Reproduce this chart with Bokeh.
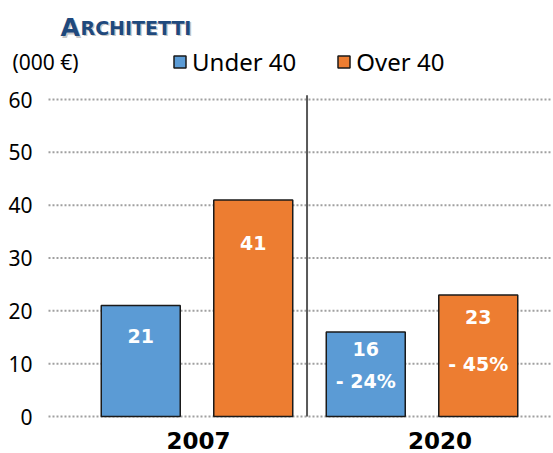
from bokeh.plotting import figure
from bokeh.models import Range1d, Legend, LegendItem, Label, LabelSet, ColumnDataSource
from bokeh.core.properties import value
from bokeh.embed import file_html
from bokeh.resources import INLINE

# ---- data ----
years = ["2007", "2020"]
under_40 = [21, 16]
over_40 = [41, 23]
pct_change = ["- 24%", "- 45%"]          # shown on 2020 bars (vs 2007)
y_ticks = [0, 10, 20, 30, 40, 50, 60]
title_text = "Architetti"
unit_text = "(000 €)"

BLUE = "#5B9BD5"
ORANGE = "#ED7D31"
EDGE = "#1a1a1a"
BOLD_FONT = "DejaVu Sans"
REG_FONT = "Noto Sans"

p = figure(width=553, height=453, output_backend="svg", toolbar_location=None,
           x_range=Range1d(-0.8733, 1.5844), y_range=Range1d(-7.0, 78.74),
           min_border_left=0, min_border_right=0, min_border_top=0, min_border_bottom=0)
p.outline_line_color = None
p.xaxis.visible = False
p.yaxis.visible = False
p.xgrid.visible = False
p.ygrid.visible = False

# dotted horizontal gridlines at the tick values
n_t = len(y_ticks)
p.segment(x0=[-0.66] * n_t, x1=[1.571] * n_t, y0=y_ticks, y1=y_ticks,
          line_color="#A0A0A0", line_width=2, line_dash="2 2")
# tick labels
p.text(x=[-0.731] * n_t, y=y_ticks, text=[str(t) for t in y_ticks],
       text_align="right", text_baseline="middle", text_font=value(REG_FONT),
       text_font_size="21px", text_color="#000000")

n = len(years)
idx = list(range(n))
xu = [i - 0.25 for i in idx]
xo = [i + 0.25 for i in idx]

r_u = p.vbar(x=xu, top=under_40, width=0.351, fill_color=BLUE, line_color=EDGE, line_width=1.5)
r_o = p.vbar(x=xo, top=over_40, width=0.351, fill_color=ORANGE, line_color=EDGE, line_width=1.5)

# separator between the two periods
p.segment(x0=[0.489], y0=[0], x1=[0.489], y1=[60.8], line_color="#595959", line_width=2)

# value labels
val_src = ColumnDataSource(dict(
    x=xu + xo,
    y=[15.3, 12.7, 32.8, 18.9],
    t=[str(v) for v in under_40] + [str(v) for v in over_40],
))
p.add_layout(LabelSet(x="x", y="y", text="t", source=val_src, text_align="center",
                      text_baseline="middle", text_color="white", text_font=value(BOLD_FONT),
                      text_font_style="bold", text_font_size="19px"))
pct_src = ColumnDataSource(dict(x=[xu[1], xo[1]], y=[6.8, 10.0], t=pct_change))
p.add_layout(LabelSet(x="x", y="y", text="t", source=pct_src, text_align="center",
                      text_baseline="middle", text_color="white", text_font=value(BOLD_FONT),
                      text_font_style="bold", text_font_size="19px"))

# category labels
cat_offsets = [0.007, 0.08]
cat_src = ColumnDataSource(dict(x=[i + o for i, o in zip(idx, cat_offsets)], y=[5] * n, t=years))
p.add_layout(LabelSet(x="x", y="y", y_units="screen", text="t", source=cat_src,
                      text_align="center", text_baseline="alphabetic", text_color="#000000",
                      text_font=value(BOLD_FONT), text_font_style="bold", text_font_size="23px"))

# title (small caps imitation with shadow)
TITLE_C = "#1F497D"
for dx, dy, col, alpha in [(1.5, -1.5, "#7f7f7f", 0.45), (0, 0, TITLE_C, 1.0)]:
    p.add_layout(Label(x=60 + dx, y=426 + dy, x_units="screen", y_units="screen",
                       text=title_text[0].upper(), text_font=BOLD_FONT, text_font_style="bold",
                       text_font_size="25px", text_color=col, text_alpha=alpha,
                       text_baseline="alphabetic"))
    p.add_layout(Label(x=80 + dx, y=426 + dy, x_units="screen", y_units="screen",
                       text=title_text[1:].upper(), text_font=BOLD_FONT, text_font_style="bold",
                       text_font_size="19px", text_color=col, text_alpha=alpha,
                       text_baseline="alphabetic"))

p.add_layout(Label(x=12, y=392, x_units="screen", y_units="screen", text=unit_text,
                   text_font=REG_FONT, text_font_size="21px", text_color="#000000",
                   text_baseline="alphabetic"))

legend = Legend(items=[LegendItem(label="Under 40", renderers=[r_u]),
                       LegendItem(label="Over 40", renderers=[r_o])],
                orientation="horizontal", location=(172, 375),
                glyph_width=15, glyph_height=15, label_standoff=5, spacing=40,
                padding=0, margin=0, label_height=24,
                border_line_color=None, background_fill_alpha=0,
                label_text_font=REG_FONT, label_text_font_size="24px",
                label_text_color="#000000")
p.add_layout(legend)

open("out.html", "w").write(file_html(p, INLINE))
